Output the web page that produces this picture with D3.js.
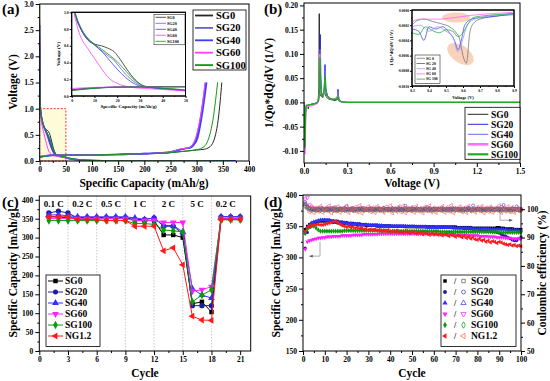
<!DOCTYPE html>
<html>
<head>
<meta charset="utf-8">
<script src="https://cdn.jsdelivr.net/npm/d3@7"></script>
<style>
body { margin: 0; background: #fff; }
svg text { font-family: "Liberation Serif", "Times New Roman", serif; font-weight: bold; }
</style>
</head>
<body>
<div id="chart"></div>
<script>
// ---------- data ----------
var samples = ["SG0", "SG20", "SG40", "SG60", "SG100"]
var samplesC = ["SG0", "SG20", "SG40", "SG60", "SG100", "NG1.2"]

// (a) first discharge / charge profiles, [capacity mAh/g, voltage V]
var dischSG0 = [[0,2.4],[0.4,1.4],[1,1.05],[2,0.95],[3.5,0.84],[5,0.75],[7,0.67],[10,0.62],[13,0.6],[16,0.57],[18.6,0.53],[21.5,0.43],[25,0.29],[28.8,0.17],[32,0.115],[37,0.095],[45,0.08],[55,0.055],[70,0.03],[90,0.012],[120,0.005],[200,0.003],[350,0.002]]
var dischSG20 = [[0,2.2],[0.4,1.4],[1,1.05],[2,0.93],[4,0.8],[6.5,0.7],[10,0.61],[13.7,0.53],[16.5,0.47],[18.5,0.43],[20,0.38],[23.7,0.26],[28,0.16],[31,0.12],[36,0.1],[45,0.08],[55,0.05],[70,0.028],[90,0.012],[120,0.005],[200,0.003],[330,0.002]]
var dischSG40 = [[0,2.6],[0.4,1.4],[1,1.04],[2,0.93],[4,0.8],[6.5,0.7],[10,0.61],[13.7,0.52],[16.5,0.43],[20,0.32],[23.7,0.22],[28,0.14],[31,0.11],[36,0.095],[45,0.075],[55,0.05],[70,0.026],[90,0.011],[120,0.005],[200,0.003],[375,0.002]]
var dischSG60 = [[0,2.7],[0.3,1.5],[1,1.02],[2,0.88],[3.6,0.73],[5,0.65],[7,0.57],[10,0.45],[13,0.33],[16.5,0.21],[20,0.15],[25,0.11],[32,0.09],[42,0.075],[55,0.05],[70,0.028],[90,0.012],[120,0.005],[200,0.003],[330,0.002]]
var dischSG100 = [[0,3.0],[0.4,1.5],[1,1.08],[2,0.95],[4,0.82],[6.5,0.71],[10,0.62],[13.7,0.55],[16.5,0.49],[20,0.41],[23.7,0.3],[28,0.18],[31,0.13],[36,0.1],[45,0.085],[55,0.06],[70,0.03],[90,0.012],[120,0.005],[200,0.003],[365,0.002]]

var chgSG0 = [[0,0.065],[5,0.08],[10,0.092],[20,0.105],[35,0.11],[60,0.112],[100,0.115],[150,0.125],[200,0.14],[250,0.16],[280,0.19],[300,0.21],[315,0.225],[322,0.25],[330,0.33],[336,0.5],[341,0.78],[345,1.15],[348,1.5]]
var chgSG20 = [[0,0.075],[5,0.088],[10,0.097],[20,0.107],[35,0.11],[60,0.112],[100,0.115],[150,0.125],[200,0.14],[250,0.17],[265,0.21],[278,0.24],[285,0.25],[292,0.3],[300,0.45],[307,0.8],[313,1.2],[317,1.5]]
var chgSG40 = [[0,0.075],[5,0.088],[10,0.097],[20,0.107],[35,0.11],[60,0.112],[100,0.115],[150,0.125],[200,0.14],[250,0.17],[265,0.21],[278,0.24],[287,0.25],[294,0.3],[302,0.45],[309,0.8],[315,1.2],[319,1.5]]
var chgSG60 = [[0,0.09],[5,0.097],[10,0.102],[20,0.108],[35,0.11],[60,0.112],[100,0.115],[150,0.125],[200,0.14],[250,0.17],[265,0.22],[278,0.24],[285,0.25],[290,0.28],[298,0.45],[306,0.78],[312,1.15],[316,1.5]]
var chgSG100 = [[0,0.07],[5,0.083],[10,0.094],[20,0.106],[35,0.11],[60,0.112],[100,0.115],[150,0.125],[200,0.14],[250,0.16],[280,0.19],[300,0.215],[310,0.25],[318,0.32],[325,0.5],[331,0.78],[336,1.15],[340,1.5]]

// (b) differential capacity, [voltage V, 1/Qo*dQ/dV]
var dqSG0 = [[0,0],[0.003,-0.03],[0.007,-0.08],[0.011,-0.02],[0.016,-0.006],[0.025,-0.007],[0.03,-0.013],[0.034,-0.005],[0.05,-0.004],[0.07,-0.003],[0.09,-0.001],[0.098,0.004],[0.103,0.03],[0.106,0.183],[0.109,0.04],[0.113,0.015],[0.12,0.012],[0.13,0.01],[0.138,0.018],[0.143,0.035],[0.148,0.015],[0.155,0.012],[0.165,0.008],[0.18,0.006],[0.2,0.005],[0.215,0.004],[0.232,0.006],[0.237,0.01],[0.243,0.003],[0.26,0.001],[0.3,0],[1.5,0]]
var dqSG20 = [[0,0],[0.003,-0.04],[0.007,-0.095],[0.011,-0.02],[0.016,-0.008],[0.03,-0.006],[0.05,-0.004],[0.07,-0.003],[0.09,-0.001],[0.1,0.004],[0.108,0.03],[0.113,0.14],[0.117,0.05],[0.122,0.02],[0.13,0.015],[0.14,0.02],[0.146,0.078],[0.15,0.03],[0.158,0.02],[0.165,0.012],[0.18,0.008],[0.2,0.006],[0.22,0.006],[0.232,0.012],[0.236,0.027],[0.241,0.008],[0.255,0.002],[0.3,0],[1.5,0]]
var dqSG40 = [[0,0],[0.003,-0.035],[0.008,-0.09],[0.012,-0.015],[0.02,-0.007],[0.04,-0.005],[0.07,-0.003],[0.09,-0.001],[0.1,0.003],[0.108,0.02],[0.112,0.11],[0.116,0.04],[0.122,0.018],[0.135,0.015],[0.142,0.03],[0.148,0.065],[0.152,0.025],[0.16,0.015],[0.18,0.008],[0.2,0.006],[0.23,0.01],[0.236,0.022],[0.242,0.006],[0.26,0.001],[0.3,0],[1.5,0]]
var dqSG60 = [[0,0],[0.003,-0.05],[0.007,-0.107],[0.011,-0.025],[0.016,-0.01],[0.03,-0.008],[0.05,-0.007],[0.07,-0.005],[0.09,-0.002],[0.1,0.003],[0.107,0.02],[0.11,0.1],[0.114,0.03],[0.12,0.015],[0.13,0.012],[0.14,0.02],[0.146,0.045],[0.15,0.02],[0.16,0.012],[0.18,0.008],[0.2,0.006],[0.23,0.008],[0.237,0.015],[0.243,0.004],[0.26,0.001],[0.3,0],[1.5,0]]
var dqSG100 = [[0,0],[0.003,-0.04],[0.007,-0.092],[0.011,-0.02],[0.016,-0.006],[0.03,-0.005],[0.05,-0.004],[0.07,-0.003],[0.09,-0.001],[0.1,0.003],[0.107,0.02],[0.111,0.093],[0.115,0.035],[0.122,0.015],[0.13,0.012],[0.14,0.025],[0.147,0.056],[0.151,0.022],[0.16,0.014],[0.18,0.008],[0.2,0.006],[0.23,0.007],[0.237,0.013],[0.243,0.004],[0.26,0.001],[0.3,0],[1.5,0]]

// (b) inset, charge side 0.3-0.9 V
var inSG0 = [[0.30,-0.00020],[0.33,-0.00014],[0.37,-0.00012],[0.42,-0.00015],[0.47,-0.00018],[0.52,-0.00022],[0.56,-0.00030],[0.58,-0.00038],[0.60,-0.00060],[0.62,-0.00070],[0.64,-0.00030],[0.66,-0.00018],[0.70,-0.00012],[0.80,-0.00008],[0.90,-0.00004]]
var inSG20 = [[0.30,-0.00025],[0.34,-0.00028],[0.37,-0.00040],[0.40,-0.00022],[0.44,-0.00025],[0.48,-0.00022],[0.52,-0.00030],[0.55,-0.00040],[0.57,-0.00052],[0.59,-0.00040],[0.61,-0.00020],[0.65,-0.00012],[0.75,-0.00009],[0.90,-0.00006]]
var inSG40 = [[0.30,-0.00022],[0.35,-0.00020],[0.40,-0.00028],[0.45,-0.00022],[0.50,-0.00028],[0.54,-0.00035],[0.57,-0.00055],[0.59,-0.00045],[0.61,-0.00030],[0.63,-0.00018],[0.70,-0.00010],[0.90,-0.00005]]
var inSG60 = [[0.30,-0.00015],[0.35,-0.00012],[0.45,-0.00012],[0.55,-0.00010],[0.65,-0.00007],[0.75,-0.00005],[0.90,-0.00003]]
var inSG100 = [[0.30,-0.00030],[0.34,-0.00032],[0.38,-0.00022],[0.42,-0.00027],[0.46,-0.00030],[0.50,-0.00026],[0.54,-0.00028],[0.57,-0.00035],[0.60,-0.00030],[0.63,-0.00018],[0.66,-0.00010],[0.75,-0.00007],[0.90,-0.00005]]

// (c) rate capability, cycles 1-21
var rateCycles = [1,2,3,4,5,6,7,8,9,10,11,12,13,14,15,16,17,18,19,20,21]
var rateSG0 = [355,355,352,352,352,352,352,352,352,345,345,345,307,307,300,125,130,103,350,350,350]
var rateSG20 = [365,370,365,352,352,352,352,352,352,348,348,352,330,330,310,120,120,120,355,355,355]
var rateSG40 = [360,360,358,355,355,355,355,355,355,352,348,352,332,332,315,165,148,140,355,355,355]
var rateSG60 = [350,350,350,350,350,350,350,350,350,345,345,345,340,340,340,158,162,170,350,350,350]
var rateSG100 = [345,345,345,345,345,345,345,345,345,337,337,335,320,318,315,130,148,162,347,347,347]
var rateNG = [355,355,355,348,348,348,345,345,345,330,330,330,265,273,228,92,82,81,348,348,348]
var rateSteps = [0,3,6,9,12,15,18,21]
var rateLabels = ["0.1 C","0.2 C","0.5 C","1 C","2 C","5 C","0.2 C"]

// (d) cycling at 100 cycles: capacity (left) and coulombic efficiency (right)
var capSG0 = [345,350,353,355,356,357,358,358,358,358, 358,357,357,356,356,355,355,355,354,354, 354,353,353,353,352,352,352,352,351,351, 351,351,351,350,350,350,350,350,350,350, 350,350,350,350,350,350,349,349,349,349, 349,349,349,349,349,349,349,349,349,349, 349,349,349,349,349,349,349,349,349,349, 348,348,348,348,348,348,348,347,347,347, 347,347,347,347,347,347,347,347,348,348, 347,347,346,346,346,346,345,345,345,345]
var capSG20 = [315,340,348,352,354,356,358,359,360,360, 360,360,359,359,358,358,357,357,356,356, 355,355,355,354,354,354,353,353,353,352, 352,352,352,352,351,351,351,351,351,351, 350,350,350,350,350,350,350,350,350,350, 350,349,349,349,349,349,349,349,349,349, 348,348,348,348,348,348,348,348,347,347, 347,347,347,346,346,346,346,345,345,345, 344,344,343,343,342,342,341,341,340,339, 337,335,334,332,330,328,327,327,330,333]
var capSG40 = [340,348,352,355,357,358,359,360,360,360, 359,359,358,357,356,356,355,355,355,354, 354,354,353,353,353,352,352,352,352,352, 351,351,351,351,351,351,350,350,350,350, 350,350,350,350,350,350,350,349,349,349, 349,349,349,349,349,349,348,348,348,348, 348,348,348,348,348,348,348,348,348,347, 347,347,347,347,347,347,347,346,346,346, 346,346,346,346,346,345,345,345,345,345, 345,345,345,344,344,344,344,344,343,343]
var capSG60 = [313,325,327,328,329,330,331,331,332,332, 333,333,333,334,334,334,334,335,335,335, 335,335,336,336,336,336,336,337,337,337, 337,337,337,337,338,338,338,338,338,338, 338,338,338,338,338,338,338,338,338,338, 338,338,338,338,338,338,338,338,338,337, 337,337,337,337,337,337,337,337,337,336, 336,336,336,336,336,335,335,335,335,335, 334,334,334,334,333,333,333,333,332,332, 332,332,331,331,331,330,330,330,330,330]
var capSG100 = [338,345,349,350,350,347,344,342,342,342, 342,342,342,342,342,342,342,342,343,343, 343,343,343,343,343,343,343,343,343,343, 343,343,343,343,343,343,343,343,342,342, 342,342,342,342,342,342,342,342,342,342, 342,342,342,342,342,342,342,342,342,342, 342,342,341,341,341,341,341,341,341,341, 341,341,341,341,341,341,341,341,341,341, 341,341,341,341,341,341,341,341,341,340, 340,340,340,340,340,340,340,340,340,340]
var capNG = [342,348,350,351,352,352,353,352,352,353, 354,355,356,357,358,356,353,351,350,349, 350,348,349,347,348,346,347,345,346,344, 345,344,345,343,344,342,343,342,344,341, 342,341,343,340,341,339,342,340,339,341, 340,338,339,340,337,339,338,336,338,337, 338,336,337,335,337,336,334,336,335,333, 335,334,332,334,331,333,330,332,329,328, 330,327,328,325,327,324,326,325,323,325, 324,322,321,320,321,319,320,318,319,318]

var ceSG0 = [101.8,100.9,100.3,99.8,100.1,99.6,100.2,99.9,100.0,99.7, 100.2,99.8,100.4,99.9,99.6,100.1,99.8,100.3,99.7,100.0, 99.9,100.2,99.6,100.0,99.8,100.3,99.9,99.7,100.1,99.8, 100.2,99.9,99.6,100.0,100.3,99.8,99.9,100.1,99.7,100.0, 99.8,100.2,99.9,99.7,100.1,99.8,100.0,99.6,100.2,99.9, 100.0,99.8,100.1,99.7,99.9,100.2,99.8,100.0,99.7,100.1, 99.9,100.0,99.8,100.2,99.7,99.9,100.1,99.8,100.0,99.9, 99.7,100.2,99.8,100.0,99.9,100.1,99.7,99.9,100.0,99.8, 100.1,99.9,99.7,100.0,99.8,100.2,99.9,99.8,100.0,99.7, 100.1,99.9,99.8,100.0,99.7,99.9,100.1,99.8,99.6,99.9]
var ceSG20 = [102.5,101.2,100.4,100.0,99.7,100.2,99.8,100.5,99.9,100.1, 99.7,100.3,99.9,100.0,100.6,99.8,100.2,99.9,100.1,101.0, 99.8,100.0,100.3,99.7,100.1,99.9,100.4,99.8,100.0,100.2, 99.9,100.1,99.7,100.3,99.8,100.0,100.5,99.9,100.1,99.8, 100.2,99.9,100.0,100.4,99.7,100.1,101.2,99.9,100.0,100.3, 99.8,100.1,99.9,100.2,99.7,100.0,100.6,99.9,100.1,99.8, 100.2,100.0,99.7,100.3,99.9,100.1,99.8,100.0,100.4,99.9, 100.1,99.7,100.2,99.9,100.0,100.5,99.8,101.3,99.9,100.1, 99.8,100.0,100.2,99.7,100.1,99.9,100.3,99.8,100.0,100.2, 100.8,101.5,100.1,99.8,100.2,99.9,100.0,101.0,100.3,99.6]
var ceSG40 = [101.6,100.6,100.1,99.9,100.2,99.8,100.0,99.7,100.3,99.9, 100.1,99.8,100.0,100.2,99.7,99.9,100.1,99.8,100.3,99.9, 100.0,99.7,100.2,99.9,100.0,99.8,100.1,100.3,99.7,99.9, 100.2,99.8,100.0,99.9,100.1,99.7,100.2,99.9,100.0,99.8, 100.3,99.9,99.7,100.1,99.8,100.0,100.2,99.9,99.7,100.1, 99.9,100.2,99.8,100.0,99.9,100.1,99.7,100.3,99.8,100.0, 99.9,100.1,99.8,100.2,99.9,99.7,100.0,100.1,99.8,100.2, 99.9,100.0,99.7,100.1,99.8,100.3,99.9,100.0,99.8,100.1, 99.9,100.2,99.7,100.0,99.9,100.1,99.8,100.0,100.2,99.9, 99.7,100.1,99.9,100.0,99.8,100.2,99.9,100.0,99.8,99.9]
var ceSG60 = [103.6,104.1,101.5,100.6,100.2,99.9,100.1,99.8,100.2,99.9, 100.0,99.8,100.1,99.9,100.2,99.7,100.0,99.9,100.1,99.8, 100.2,99.9,100.0,99.7,100.1,99.9,100.2,99.8,100.0,99.9, 99.8,100.1,99.9,100.2,99.7,100.0,99.9,100.1,99.8,100.0, 100.1,99.8,100.0,99.9,100.2,99.8,100.0,99.9,100.1,99.7, 100.0,99.9,100.2,99.8,100.1,99.9,100.0,99.7,100.2,99.9, 100.0,99.8,100.1,99.9,100.0,100.2,99.8,99.9,100.1,99.8, 100.0,99.9,100.2,99.7,100.0,99.9,100.1,99.8,100.0,99.9, 100.1,99.8,100.0,99.9,100.2,99.8,100.0,99.9,100.1,99.7, 100.0,99.9,100.1,99.8,100.0,99.9,99.8,100.1,99.9,99.8]
var ceSG100 = [101.0,100.4,100.0,99.7,99.9,99.6,99.8,99.7,99.9,99.6, 99.8,99.7,99.9,99.6,99.8,99.7,99.9,99.8,99.6,99.8, 99.7,99.9,99.6,99.8,99.7,99.9,99.8,99.6,99.8,99.7, 99.9,99.6,99.8,99.7,99.9,99.8,99.6,99.8,99.7,99.9, 99.6,99.8,99.7,99.9,99.8,99.6,99.8,99.7,99.9,99.6, 99.8,99.7,99.9,99.8,99.6,99.8,99.7,99.9,99.6,99.8, 99.7,99.9,99.8,99.6,99.8,99.7,99.9,99.6,99.8,99.7, 99.9,99.8,99.6,99.8,99.7,99.9,99.6,99.8,99.7,99.9, 99.8,99.6,99.8,99.7,99.9,99.6,99.8,99.7,99.9,99.8, 99.6,99.8,99.7,99.9,99.6,99.8,99.7,99.9,99.8,99.7]
var ceNG = [101.5,100.2,99.0,100.8,98.8,100.5,99.2,101.0,98.9,100.3, 99.5,101.2,98.7,100.6,99.3,100.9,98.9,100.1,99.6,101.1, 98.8,100.4,99.4,100.7,99.0,101.3,98.6,100.2,99.8,100.9, 99.1,100.5,98.8,101.0,99.4,100.2,98.9,100.8,99.6,101.2, 98.7,100.3,99.2,100.9,99.0,101.1,98.8,100.4,99.5,100.7, 98.9,101.0,99.3,100.2,98.7,100.8,99.4,101.2,99.0,100.5, 98.8,100.3,99.6,101.0,98.9,100.6,99.2,101.3,98.7,100.1, 99.5,100.9,99.0,100.4,98.8,101.1,99.3,100.2,98.9,100.7, 99.4,101.0,98.7,100.5,99.1,100.8,98.9,100.3,99.6,101.2, 98.8,100.4,99.2,100.9,99.0,100.6,98.8,100.2,99.4,100.0]

// ---------- styles ----------
var colA = ["#262626","#6464cc","#3c3cff","#ff3cff","#109a10"]
var widA = [1, 1.6, 1.6, 1, 1]
var colB = ["#262626","#2a2ae0","#6a6aff","#ff70ff","#22aa22"]
var widB = [1, 1, 1, 2.6, 2.2]
var colInB = ["#777777","#4a4ae8","#9c9cff","#ff66ee","#22b04a"]
var colC = ["#000000","#1c1ca8","#3030ff","#ff20ff","#0a9a0a","#ff1a1a"]
var symC = [d3.symbolSquare, d3.symbolCircle, d3.symbolTriangle, d3.symbolTriangle, d3.symbolDiamond, d3.symbolTriangle]
var rotC = [0, 0, 0, 180, 0, -90]
var colCE = ["#555555","#3a3ac0","#3030ff","#ff20ff","#0a9a0a","#ff5a5a"]

var W = 550, H = 381
var svg = d3.select("#chart").append("svg")
  .attr("width", W).attr("height", H)

svg.append("defs").append("marker")
  .attr("id", "arr").attr("viewBox", "0 0 10 10")
  .attr("refX", 9).attr("refY", 5)
  .attr("markerWidth", 5).attr("markerHeight", 5)
  .attr("orient", "auto-start-reverse")
  .append("path").attr("d", "M0,1L10,5L0,9z").attr("fill", "#555")

function fixMinus(f) {
  return function(d) { return f(d).replace("\u2212", "-") }
}

// frame + ticks for one panel
function bottomAxis(g, x, y0, ticks, minor, fmt, fs, len) {
  g.append("g").attr("transform", "translate(0," + y0 + ")")
    .call(d3.axisBottom(x).tickValues(minor).tickSize(len / 2).tickFormat(""))
    .call(function(a) { a.select(".domain").remove() })
  g.append("g").attr("transform", "translate(0," + y0 + ")")
    .call(d3.axisBottom(x).tickValues(ticks).tickSize(len).tickPadding(len > 2 ? 2 : 1).tickFormat(fmt))
    .attr("font-size", fs)
    .call(function(a) { a.select(".domain").remove() })
}
function sideAxis(g, y, x0, ticks, minor, fmt, fs, len, right) {
  var mk = right ? d3.axisRight : d3.axisLeft
  g.append("g").attr("transform", "translate(" + x0 + ",0)")
    .call(mk(y).tickValues(minor).tickSize(len / 2).tickFormat(""))
    .call(function(a) { a.select(".domain").remove() })
  g.append("g").attr("transform", "translate(" + x0 + ",0)")
    .call(mk(y).tickValues(ticks).tickSize(len).tickPadding(len > 2 ? 2 : 1).tickFormat(fmt))
    .attr("font-size", fs)
    .call(function(a) { a.select(".domain").remove() })
}
function frame(g, x, y, fill) {
  g.append("rect")
    .attr("x", x.range()[0]).attr("y", y.range()[1])
    .attr("width", x.range()[1] - x.range()[0])
    .attr("height", y.range()[0] - y.range()[1])
    .attr("fill", fill || "none").attr("stroke", "#000").attr("stroke-width", 1)
}
function clip(id, x, y) {
  svg.select("defs").append("clipPath").attr("id", id).append("rect")
    .attr("x", x.range()[0]).attr("y", y.range()[1])
    .attr("width", x.range()[1] - x.range()[0])
    .attr("height", y.range()[0] - y.range()[1])
}
function label(txt, x, y, fs, rot, anchor) {
  var t = svg.append("text").text(txt).attr("font-size", fs)
    .attr("text-anchor", anchor || "middle")
  if (rot) t.attr("transform", "translate(" + x + "," + y + ") rotate(" + rot + ")")
  else t.attr("x", x).attr("y", y)
  return t
}

// ================= (a) =================
var xA = d3.scaleLinear().domain([0, 400]).range([39.7, 249])
var yA = d3.scaleLinear().domain([0, 3]).range([161, 4])
var gA = svg.append("g")
clip("clipA", xA, yA)

// highlighted zoom region
gA.append("rect")
  .attr("x", xA(0)).attr("y", yA(1)).attr("width", xA(50) - xA(0)).attr("height", yA(0) - yA(1))
  .attr("fill", "#fdfbd8").attr("stroke", "#ff3030").attr("stroke-dasharray", "2,1.5").attr("stroke-width", 1)

var lineA = d3.line().x(function(d) { return xA(d[0]) }).y(function(d) { return yA(d[1]) }).curve(d3.curveMonotoneX)
var disch = [dischSG0, dischSG20, dischSG40, dischSG60, dischSG100]
var chg = [chgSG0, chgSG20, chgSG40, chgSG60, chgSG100]
var pA = gA.append("g").attr("clip-path", "url(#clipA)")
disch.forEach(function(s, i) {
  pA.append("path").datum(s).attr("d", lineA).attr("fill", "none").attr("stroke", colA[i]).attr("stroke-width", widA[i])
})
chg.forEach(function(s, i) {
  pA.append("path").datum(s).attr("d", lineA).attr("fill", "none").attr("stroke", colA[i]).attr("stroke-width", widA[i])
})
frame(gA, xA, yA)
bottomAxis(gA, xA, 161, d3.range(0, 401, 50), d3.range(25, 400, 50), d3.format("d"), 7.5, 4)
sideAxis(gA, yA, 39.7, d3.range(0, 3.01, 0.5), d3.range(0.25, 3, 0.5), d3.format(".1f"), 7.5, 4)

// legend (a)
var lgA = gA.append("g")
lgA.append("rect").attr("x", 193).attr("y", 10).attr("width", 53).attr("height", 60).attr("fill", "#fff").attr("stroke", "#000").attr("stroke-width", 0.8)
samples.forEach(function(s, i) {
  var yy = 15.5 + i * 12.4
  lgA.append("line").attr("x1", 195).attr("x2", 213).attr("y1", yy).attr("y2", yy).attr("stroke", colA[i]).attr("stroke-width", 1.8)
  lgA.append("text").attr("x", 216).attr("y", yy + 3.5).attr("font-size", 10.5).text(s)
})

// inset (a)
var xAi = d3.scaleLinear().domain([0, 50]).range([71.7, 185.5])
var yAi = d3.scaleLinear().domain([0, 1]).range([96, 12.3])
clip("clipAi", xAi, yAi)
var gAi = svg.append("g")
frame(gAi, xAi, yAi, "#fff")
var lineAi = d3.line().x(function(d) { return xAi(d[0]) }).y(function(d) { return yAi(d[1]) }).curve(d3.curveMonotoneX)
var pAi = gAi.append("g").attr("clip-path", "url(#clipAi)")
disch.concat(chg).forEach(function(s, i) {
  pAi.append("path").datum(s).attr("d", lineAi).attr("fill", "none").attr("stroke", colA[i % 5]).attr("stroke-width", 0.8)
})
frame(gAi, xAi, yAi)
bottomAxis(gAi, xAi, 96, d3.range(0, 51, 10), d3.range(5, 50, 10), d3.format("d"), 3.8, 2)
sideAxis(gAi, yAi, 71.7, d3.range(0, 1.01, 0.2), d3.range(0.1, 1, 0.2), d3.format(".1f"), 3.8, 2)
var lgAi = gAi.append("g")
lgAi.append("rect").attr("x", 154).attr("y", 14.3).attr("width", 31).attr("height", 30.5).attr("fill", "#fff").attr("stroke", "#000").attr("stroke-width", 0.5)
samples.forEach(function(s, i) {
  var yy = 17.3 + i * 6
  lgAi.append("line").attr("x1", 155.5).attr("x2", 166).attr("y1", yy).attr("y2", yy).attr("stroke", colA[i]).attr("stroke-width", 0.8)
  lgAi.append("text").attr("x", 167).attr("y", yy + 1.5).attr("font-size", 4.2).text(s)
})
label("Specific Capacity (mAh/g)", 128.6, 108, 5)
label("Voltage (V)", 60, 54, 5, -90)

label("(a)", 2, 14, 15, 0, "start")
label("Specific Capacity (mAh/g)", 144, 187, 11.5)
label("Voltage (V)", 17, 82, 11.5, -90)

// ================= (b) =================
var xB = d3.scaleLinear().domain([0, 1.5]).range([304, 520])
var yB = d3.scaleLinear().domain([-0.125, 0.205]).range([163, 3])
var gB = svg.append("g")
clip("clipB", xB, yB)
var lineB = d3.line().x(function(d) { return xB(d[0]) }).y(function(d) { return yB(d[1]) })
var dq = [dqSG0, dqSG20, dqSG40, dqSG60, dqSG100]
var pB = gB.append("g").attr("clip-path", "url(#clipB)")
dq.forEach(function(s, i) {
  pB.append("path").datum(s).attr("d", lineB).attr("fill", "none").attr("stroke", colB[i]).attr("stroke-width", i > 2 ? 1.4 : 1)
})
frame(gB, xB, yB)
bottomAxis(gB, xB, 163, [0, 0.3, 0.6, 0.9, 1.2, 1.5], [0.15, 0.45, 0.75, 1.05, 1.35], d3.format(".1f"), 7.5, 4)
sideAxis(gB, yB, 304, [-0.1, -0.05, 0, 0.05, 0.1, 0.15, 0.2], [-0.075, -0.025, 0.025, 0.075, 0.125, 0.175], fixMinus(d3.format(".2f")), 7.5, 4)

var lgB = gB.append("g")
lgB.append("rect").attr("x", 465).attr("y", 107.3).attr("width", 55).attr("height", 52).attr("fill", "#fff").attr("stroke", "#000").attr("stroke-width", 0.8)
samples.forEach(function(s, i) {
  var yy = 114.3 + i * 10
  lgB.append("line").attr("x1", 467.7).attr("x2", 488.3).attr("y1", yy).attr("y2", yy).attr("stroke", colB[i]).attr("stroke-width", widB[i])
  lgB.append("text").attr("x", 491).attr("y", yy + 3.3).attr("font-size", 9.5).text(s)
})

// inset (b)
var xBi = d3.scaleLinear().domain([0.3, 0.9]).range([412, 514])
var yBi = d3.scaleLinear().domain([-0.001, 0]).range([86, 10])
clip("clipBi", xBi, yBi)
var gBi = svg.append("g")
frame(gBi, xBi, yBi, "#fff")
// highlighted regions
gBi.append("ellipse").attr("cx", xBi(0.56)).attr("cy", yBi(-0.0001)).attr("rx", 14).attr("ry", 5)
  .attr("fill", "#f3b48c").attr("opacity", 0.6)
gBi.append("ellipse").attr("transform", "translate(" + xBi(0.585) + "," + yBi(-0.00058) + ") rotate(35)")
  .attr("rx", 15).attr("ry", 8.5).attr("fill", "#f3b48c").attr("opacity", 0.6)
var lineBi = d3.line().x(function(d) { return xBi(d[0]) }).y(function(d) { return yBi(d[1]) }).curve(d3.curveMonotoneX)
var pBi = gBi.append("g").attr("clip-path", "url(#clipBi)")
;[inSG0, inSG20, inSG40, inSG60, inSG100].forEach(function(s, i) {
  pBi.append("path").datum(s).attr("d", lineBi).attr("fill", "none").attr("stroke", colInB[i]).attr("stroke-width", 0.8)
})
frame(gBi, xBi, yBi)
bottomAxis(gBi, xBi, 86, [0.3, 0.4, 0.5, 0.6, 0.7, 0.8, 0.9], [0.35, 0.45, 0.55, 0.65, 0.75, 0.85], d3.format(".1f"), 3.6, 2)
sideAxis(gBi, yBi, 412, [-0.001, -0.0008, -0.0006, -0.0004, -0.0002, 0], [-0.0009, -0.0007, -0.0005, -0.0003, -0.0001], fixMinus(d3.format(".4f")), 3.6, 2)
var lgBi = gBi.append("g")
lgBi.append("rect").attr("x", 415).attr("y", 55).attr("width", 25).attr("height", 28.3).attr("fill", "#fff").attr("stroke", "#000").attr("stroke-width", 0.5)
samples.forEach(function(s, i) {
  var yy = 58.3 + i * 5.2
  lgBi.append("line").attr("x1", 416.5).attr("x2", 425).attr("y1", yy).attr("y2", yy).attr("stroke", colInB[i]).attr("stroke-width", 0.8)
  lgBi.append("text").attr("x", 426).attr("y", yy + 1.3).attr("font-size", 3.8).text(s.replace("SG", "SG "))
})
label("Voltage (V)", 463, 98.5, 4.5)
label("1/Qo*dQ/dV (1/V)", 393, 48, 4.5, -90)

label("(b)", 264, 14, 15, 0, "start")
label("Voltage (V)", 412, 187, 11.5)
label("1/Qo*dQ/dV (1/V)", 273, 83, 11.5, -90)

// ================= (c) =================
var xC = d3.scaleLinear().domain([0, 22.1]).range([39.3, 250.7])
var yC = d3.scaleLinear().domain([0, 410]).range([351, 196])
var gC = svg.append("g")
// dotted step separators
rateSteps.slice(1, -1).forEach(function(c) {
  gC.append("line").attr("x1", xC(c)).attr("x2", xC(c)).attr("y1", yC(410)).attr("y2", yC(0))
    .attr("stroke", "#aaa").attr("stroke-width", 0.6).attr("stroke-dasharray", "1.5,1.5")
})
var rates = [rateSG0, rateSG20, rateSG40, rateSG60, rateSG100, rateNG]
var lineC = d3.line().x(function(d, i) { return xC(rateCycles[i]) }).y(function(d) { return yC(d) })
rates.forEach(function(s, k) {
  gC.append("path").datum(s).attr("d", lineC).attr("fill", "none").attr("stroke", colC[k]).attr("stroke-width", 1)
  gC.selectAll(null).data(s).enter().append("path")
    .attr("d", d3.symbol().type(symC[k]).size(k == 1 ? 22 : 20))
    .attr("transform", function(d, i) { return "translate(" + xC(rateCycles[i]) + "," + yC(d) + ") rotate(" + rotC[k] + ")" })
    .attr("fill", colC[k])
})
rateLabels.forEach(function(t, i) {
  gC.append("text").attr("x", xC((rateSteps[i] + rateSteps[i + 1]) / 2)).attr("y", 207)
    .attr("text-anchor", "middle").attr("font-size", 9).text(t)
})
frame(gC, xC, yC)
bottomAxis(gC, xC, 351, d3.range(0, 22, 3), d3.range(1.5, 22, 3), d3.format("d"), 7.5, 4)
sideAxis(gC, yC, 39.3, d3.range(0, 401, 50), d3.range(25, 410, 50), d3.format("d"), 7.5, 4)

var lgC = gC.append("g")
lgC.append("rect").attr("x", 46).attr("y", 275).attr("width", 54).attr("height", 71.5).attr("fill", "#fff").attr("stroke", "#000").attr("stroke-width", 0.8)
samplesC.forEach(function(s, k) {
  var yy = 281 + k * 11
  lgC.append("line").attr("x1", 48).attr("x2", 63).attr("y1", yy).attr("y2", yy).attr("stroke", colC[k]).attr("stroke-width", 1)
  lgC.append("path").attr("d", d3.symbol().type(symC[k]).size(20))
    .attr("transform", "translate(55.5," + yy + ") rotate(" + rotC[k] + ")").attr("fill", colC[k])
  lgC.append("text").attr("x", 65).attr("y", yy + 3.3).attr("font-size", 9.5).text(s)
})

label("(c)", 2, 207, 15, 0, "start")
label("Cycle", 145, 377, 11.5)
label("Specific Capacity [mAh/g]", 17, 273, 11.5, -90)

// ================= (d) =================
var xD = d3.scaleLinear().domain([0, 100]).range([303, 521])
var yD = d3.scaleLinear().domain([150, 400]).range([351, 195])
var yD2 = d3.scaleLinear().domain([50, 105]).range([351, 195])
var gD = svg.append("g")
var caps = [capSG0, capSG20, capSG40, capSG60, capSG100, capNG]
var ces = [ceSG0, ceSG20, ceSG40, ceSG60, ceSG100, ceNG]
ces.forEach(function(s, k) {
  gD.selectAll(null).data(s).enter().append("path")
    .attr("d", d3.symbol().type(symC[k]).size(7))
    .attr("transform", function(d, i) { return "translate(" + xD(i + 1) + "," + yD2(d) + ") rotate(" + rotC[k] + ")" })
    .attr("fill", "none").attr("stroke", colCE[k]).attr("stroke-width", 0.6)
})
caps.forEach(function(s, k) {
  gD.selectAll(null).data(s).enter().append("path")
    .attr("d", d3.symbol().type(symC[k]).size(8))
    .attr("transform", function(d, i) { return "translate(" + xD(i + 1) + "," + yD(d) + ") rotate(" + rotC[k] + ")" })
    .attr("fill", colC[k])
})
// arrows pointing to the axes
gD.append("path").attr("d", "M" + xD(7.8) + "," + yD(325) + "V" + yD(302) + "H" + xD(3))
  .attr("fill", "none").attr("stroke", "#888").attr("stroke-width", 0.7).attr("marker-end", "url(#arr)")
gD.append("path").attr("d", "M" + xD(90.4) + "," + yD2(99) + "V" + yD2(96.1) + "H" + xD(96))
  .attr("fill", "none").attr("stroke", "#888").attr("stroke-width", 0.7).attr("marker-end", "url(#arr)")

frame(gD, xD, yD)
bottomAxis(gD, xD, 351, d3.range(0, 101, 10), d3.range(5, 100, 10), d3.format("d"), 7.5, 4)
sideAxis(gD, yD, 303, d3.range(150, 401, 50), d3.range(175, 400, 50), d3.format("d"), 7.5, 4)
sideAxis(gD, yD2, 521, d3.range(50, 101, 10), d3.range(55, 105, 10), d3.format("d"), 7.5, 4, true)

var lgD = gD.append("g")
lgD.append("rect").attr("x", 441).attr("y", 275).attr("width", 75).attr("height", 71.5).attr("fill", "#fff").attr("stroke", "#000").attr("stroke-width", 0.8)
samplesC.forEach(function(s, k) {
  var yy = 281 + k * 11
  lgD.append("path").attr("d", d3.symbol().type(symC[k]).size(12))
    .attr("transform", "translate(445," + yy + ") rotate(" + rotC[k] + ")").attr("fill", colC[k])
  lgD.append("text").attr("x", 455).attr("y", yy + 3).attr("font-size", 8).attr("text-anchor", "middle").text("/")
  lgD.append("path").attr("d", d3.symbol().type(symC[k]).size(12))
    .attr("transform", "translate(463.5," + yy + ") rotate(" + rotC[k] + ")")
    .attr("fill", "none").attr("stroke", colCE[k]).attr("stroke-width", 0.7)
  lgD.append("text").attr("x", 471).attr("y", yy + 3.3).attr("font-size", 9.5).text(s)
})

label("(d)", 264, 207, 15, 0, "start")
label("Cycle", 412, 377, 11.5)
label("Specific Capacity [mAh/g]", 280, 273, 11.5, -90)
label("Coulombic efficiency (%)", 546, 273, 11.5, -90)
</script>
</body>
</html>
